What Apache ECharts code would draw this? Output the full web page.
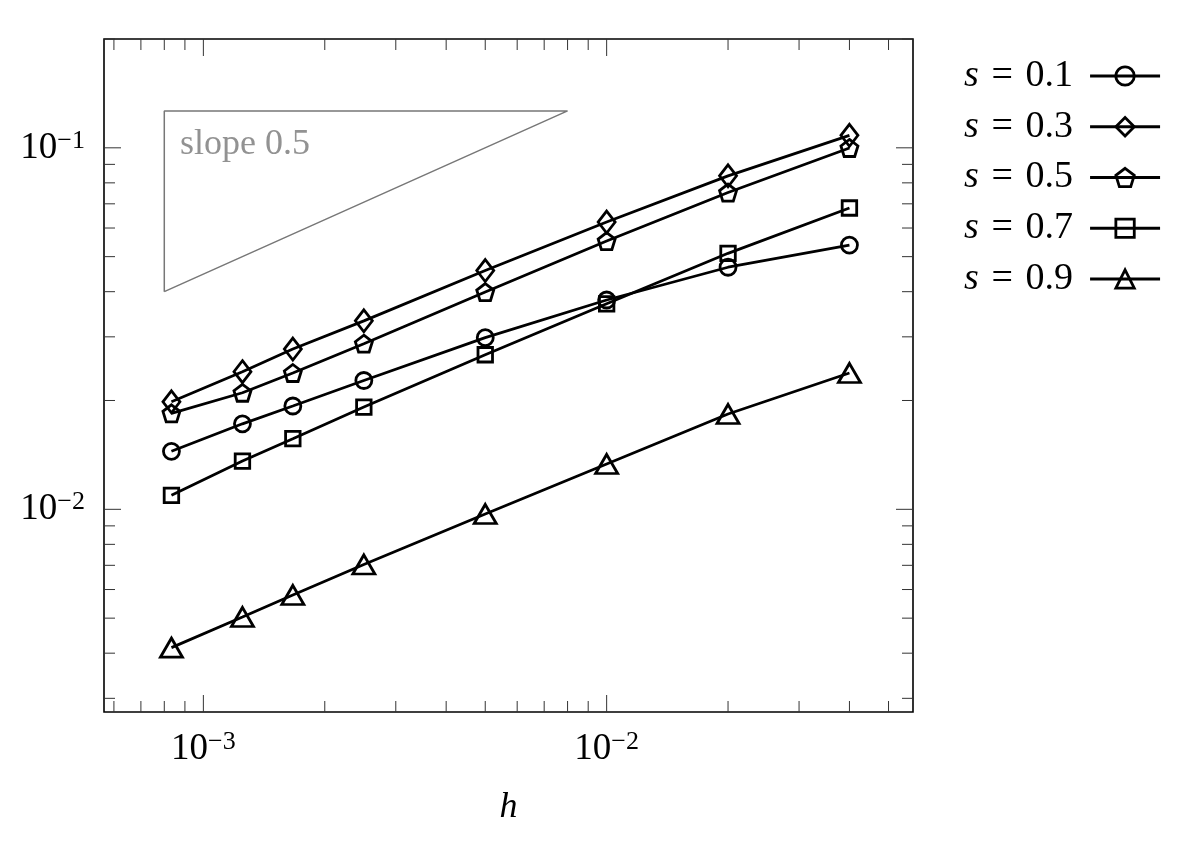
<!DOCTYPE html>
<html>
<head>
<meta charset="utf-8">
<script src="https://cdn.jsdelivr.net/npm/echarts@6/dist/echarts.min.js"></script>
<style>
html,body{margin:0;padding:0;background:#fff;}
#chart{width:1184px;height:842px;}
</style>
</head>
<body>
<div id="chart"></div>
<script>
// ---- data ----
const hValues = [1/1200, 1/800, 1/600, 1/400, 1/200, 1/100, 1/50, 1/25];
const seriesNames = ['s = 0.1', 's = 0.3', 's = 0.5', 's = 0.7', 's = 0.9'];
const errS01 = [0.01447, 0.01724, 0.01931, 0.02272, 0.02984, 0.03793, 0.04674, 0.05383];
const errS03 = [0.01984, 0.02402, 0.02776, 0.03322, 0.04576, 0.06234, 0.08365, 0.1083];
const errS05 = [0.01843, 0.02101, 0.02383, 0.02872, 0.03991, 0.05523, 0.07521, 0.0999];
const errS07 = [0.01093, 0.01360, 0.01568, 0.01918, 0.02677, 0.03702, 0.05107, 0.06817];
const errS09 = [0.004143, 0.005036, 0.005794, 0.007038, 0.009705, 0.01335, 0.01835, 0.02383];
const slopeTriX = [8e-4, 8e-3, 8e-4, 8e-4];
const slopeTriY = [0.04, 0.1265, 0.1265, 0.04];
const slopeLabelPos = [8.75e-4, 0.1018];
const slopeLabelText = 'slope 0.5';
const xRange = [5.67e-4, 0.0575];
const yRange = [0.00275, 0.2];
const xMajorTicks = [1e-3, 1e-2];
const xMinorTicks = [6e-4, 7e-4, 8e-4, 9e-4, 2e-3, 3e-3, 4e-3, 5e-3, 6e-3, 7e-3, 8e-3, 9e-3, 2e-2, 3e-2, 4e-2, 5e-2];
const yMajorTicks = [1e-2, 1e-1];
const yMinorTicks = [3e-3, 4e-3, 5e-3, 6e-3, 7e-3, 8e-3, 9e-3, 2e-2, 3e-2, 4e-2, 5e-2, 6e-2, 7e-2, 8e-2, 9e-2, 2e-1];
const xAxisName = 'h';

// ---- styles ----
const FONT = "'Liberation Serif', 'Times New Roman', serif";
const LW = 2.8;
const pentagon = 'path://M0,-1 L0.951,-0.309 L0.588,0.809 L-0.588,0.809 L-0.951,-0.309 Z';
const markerDefs = [
  {symbol: 'circle', size: 16},
  {symbol: 'diamond', size: [17, 22]},
  {symbol: pentagon, size: 17},
  {symbol: 'rect', size: 14.5},
  {symbol: 'triangle', size: [22, 19]}
];
const allErr = [errS01, errS03, errS05, errS07, errS09];

function pair(xs, ys) { return xs.map((x, i) => [x, ys[i]]); }

function isPow10(v) {
  const l = Math.log10(v);
  return Math.abs(l - Math.round(l)) < 1e-6;
}
function powLabel(v) {
  if (!isPow10(v)) return '';
  const k = Math.round(Math.log10(v));
  return '{b|10}{s|' + (k < 0 ? '\u2212' + (-k) : k) + '}';
}
const labelRich = {
  b: {fontSize: 37, fontFamily: FONT, color: '#000', lineHeight: 40},
  s: {fontSize: 26, fontFamily: FONT, color: '#000', verticalAlign: 'top', lineHeight: 26}
};

const dataSeries = allErr.map((arr, i) => ({
  name: seriesNames[i],
  type: 'line',
  data: pair(hValues, arr),
  symbol: markerDefs[i].symbol,
  symbolSize: markerDefs[i].size,
  showAllSymbol: true,
  lineStyle: {color: '#000', width: LW},
  itemStyle: {color: 'none', borderColor: '#000', borderWidth: LW},
  emphasis: {disabled: true},
  z: 5
}));

const tickSeries = {
  type: 'custom',
  silent: true,
  z: 3,
  clip: false,
  data: [[1e-3, 0.01]],
  renderItem: function (params, api) {
    const cs = params.coordSys;
    const left = cs.x, top = cs.y, right = cs.x + cs.width, bottom = cs.y + cs.height;
    const kids = [];
    const st = {stroke: '#333', lineWidth: 1};
    function addX(v, len) {
      const p = api.coord([v, 0.01])[0];
      kids.push({type: 'line', shape: {x1: p, y1: bottom, x2: p, y2: bottom - len}, style: st});
      kids.push({type: 'line', shape: {x1: p, y1: top, x2: p, y2: top + len}, style: st});
    }
    function addY(v, len) {
      const p = api.coord([1e-3, v])[1];
      kids.push({type: 'line', shape: {x1: left, y1: p, x2: left + len, y2: p}, style: st});
      kids.push({type: 'line', shape: {x1: right, y1: p, x2: right - len, y2: p}, style: st});
    }
    xMajorTicks.forEach(v => addX(v, 17));
    xMinorTicks.forEach(v => addX(v, 11));
    yMajorTicks.forEach(v => addY(v, 17));
    yMinorTicks.forEach(v => addY(v, 11));
    return {type: 'group', children: kids};
  }
};

const option = {
  animation: false,
  backgroundColor: '#fff',
  grid: {
    left: 104, top: 39, width: 809, height: 673,
    show: true, borderColor: '#000', borderWidth: 1.6, backgroundColor: 'transparent'
  },
  xAxis: {
    type: 'log',
    min: xRange[0], max: xRange[1],
    axisLine: {show: false},
    axisTick: {show: false},
    splitLine: {show: false},
    axisLabel: {margin: 17, formatter: powLabel, rich: labelRich, showMinLabel: false, showMaxLabel: false},
    name: xAxisName,
    nameLocation: 'middle',
    nameGap: 78,
    nameTextStyle: {fontFamily: FONT, fontStyle: 'italic', fontSize: 36, color: '#000'}
  },
  yAxis: {
    type: 'log',
    min: yRange[0], max: yRange[1],
    axisLine: {show: false},
    axisTick: {show: false},
    splitLine: {show: false},
    axisLabel: {margin: 19, formatter: powLabel, rich: labelRich, showMinLabel: false, showMaxLabel: false}
  },
  legend: {
    orient: 'vertical',
    left: 964, top: 56,
    padding: 0,
    align: 'right',
    itemWidth: 70, itemHeight: 23,
    itemGap: 10.75,
    selectedMode: false,
    data: seriesNames,
    formatter: n => '{i|s}\u2004=\u2004' + n.slice(4) + '{g| }',
    lineStyle: {width: LW, color: '#000'},
    itemStyle: {borderWidth: LW, borderColor: '#000', color: 'none'},
    textStyle: {
      fontFamily: FONT, fontSize: 38, color: '#000', lineHeight: 40,
      rich: {
        i: {fontFamily: FONT, fontStyle: 'italic', fontSize: 38, color: '#000', lineHeight: 40},
        g: {width: 12, fontSize: 38, lineHeight: 40}
      }
    }
  },
  series: [
    tickSeries,
    {
      name: 'slope-triangle',
      type: 'line',
      data: pair(slopeTriX, slopeTriY),
      symbol: 'none',
      silent: true,
      lineStyle: {color: '#777', width: 1.5},
      z: 2
    },
    {
      name: 'slope-label',
      type: 'scatter',
      data: [slopeLabelPos],
      symbolSize: 0,
      silent: true,
      label: {
        show: true, position: 'right', distance: 0,
        formatter: slopeLabelText,
        fontFamily: FONT, fontSize: 36, color: '#777'
      }
    },
    ...dataSeries
  ]
};

const chart = echarts.init(document.getElementById('chart'), null, {renderer: 'canvas'});
chart.setOption(option);
</script>
</body>
</html>
